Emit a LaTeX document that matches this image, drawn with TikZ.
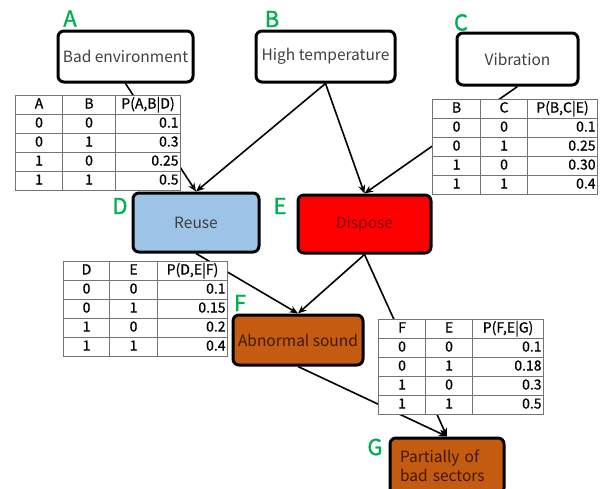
\documentclass[tikz,border=0pt]{standalone}
\usepackage{fontspec}
\setmainfont{Noto Sans CJK JP}
\newfontfamily\cellfont[FakeBold=0.8]{Noto Sans CJK JP}
\newfontfamily\tagfont[FakeBold=1.2]{Noto Sans CJK JP}
\usetikzlibrary{arrows.meta,matrix}

\definecolor{lblgreen}{HTML}{00B050}
\definecolor{reuseblue}{HTML}{9DC3E6}
\definecolor{rustbrown}{HTML}{C55A11}
\definecolor{boxtext}{HTML}{404040}
\definecolor{disposetext}{HTML}{7F0000}
\definecolor{browntext}{HTML}{3B1A00}

\tikzset{
  state/.style={draw=black, line width=3pt, rounded corners=6pt, inner sep=0pt,
    font=\fontsize{15.5}{19}\selectfont, text=boxtext},
  tag/.style={text=lblgreen, font=\tagfont\fontsize{22}{24}\selectfont, inner sep=0pt},
  link/.style={line width=1.6pt, -{Stealth[length=8.5pt,width=7pt]}},
  cpt/.style n args={3}{matrix of nodes, inner sep=0pt, anchor=north west,
    row sep=-0.7pt, column sep=-0.7pt,
    nodes={draw=black!55, line width=0.7pt, fill=white, minimum height=19pt,
      text height=10pt, text depth=3pt, inner xsep=2pt, inner ysep=0pt,
      font=\cellfont\fontsize{14}{16}\selectfont, anchor=center},
    column 1/.style={nodes={minimum width=#1}},
    column 2/.style={nodes={minimum width=#2}},
    column 3/.style={nodes={text width=#3, align=right}},
    row 1 column 3/.style={nodes={align=center}}},
}

\begin{document}
\begin{tikzpicture}[x=1pt, y=-1pt]
  \useasboundingbox (0,0) rectangle (602,488);
  \clip (0,0) rectangle (602,488);

  % variables
  \node[state, minimum width=135pt, minimum height=51pt] (A) at (125.5,56.5) {Bad environment};
  \node[state, minimum width=139pt, minimum height=51pt] (B) at (325.5,56.5) {High temperature};
  \node[state, minimum width=121pt, minimum height=52pt] (C) at (517.5,59) {Vibration};
  \node[state, fill=reuseblue, minimum width=126pt, minimum height=59pt] (D) at (196,222.5) {Reuse};
  \node[state, fill=red, text=disposetext, minimum width=133pt, minimum height=58pt] (E) at (364.5,224) {Dispose};
  \node[state, fill=rustbrown, text=browntext, minimum width=130pt, minimum height=50pt] (F) at (298,340) {Abnormal sound};
  \node[state, fill=rustbrown, text=browntext, minimum width=114pt, minimum height=56pt,
        align=left, text width=94pt, font=\fontsize{15.5}{19.5}\selectfont] (G) at (447,466) {Partially of\\bad sectors};

  % letter tags
  \node[tag] (tA) at (70,18.5) {A};
  \node[tag] (tB) at (272,19) {B};
  \node[tag] (tC) at (461,22.5) {C};
  \node[tag] (tD) at (120,206) {D};
  \node[tag] (tE) at (280,206) {E};
  \node[tag] (tF) at (240,303) {F};
  \node[tag] (tG) at (375,447) {G};

  % dependencies
  \draw[link] (A.south) -- (D.north);
  \draw[link] (B.south) -- (D.north);
  \draw[link] (B.south) -- (E.north);
  \draw[link] (C.south) -- (E.north);
  \draw[link] (D.south) -- (F.north);
  \draw[link] (E.south) -- (F.north);
  \draw[link] (E.south) -- (G.north);
  \draw[link] (F.south) -- (G.north);

  % conditional probability tables
  \matrix (tabAB) [cpt={47pt}{53pt}{61pt}] at (15,95) {
    A & B & P(A,B|D) \\
    0 & 0 & 0.1 \\
    0 & 1 & 0.3 \\
    1 & 0 & 0.25 \\
    1 & 1 & 0.5 \\
  };
  \matrix (tabBC) [cpt={48pt}{47pt}{66pt}] at (432,99) {
    B & C & P(B,C|E) \\
    0 & 0 & 0.1 \\
    0 & 1 & 0.25 \\
    1 & 0 & 0.30 \\
    1 & 1 & 0.4 \\
  };
  \matrix (tabDE) [cpt={46pt}{48pt}{66pt}] at (63,261) {
    D & E & P(D,E|F) \\
    0 & 0 & 0.1 \\
    0 & 1 & 0.15 \\
    1 & 0 & 0.2 \\
    1 & 1 & 0.4 \\
  };
  \matrix (tabFE) [cpt={47pt}{47pt}{67pt}] at (378,319) {
    F & E & P(F,E|G) \\
    0 & 0 & 0.1 \\
    0 & 1 & 0.18 \\
    1 & 0 & 0.3 \\
    1 & 1 & 0.5 \\
  };
\end{tikzpicture}
\end{document}
